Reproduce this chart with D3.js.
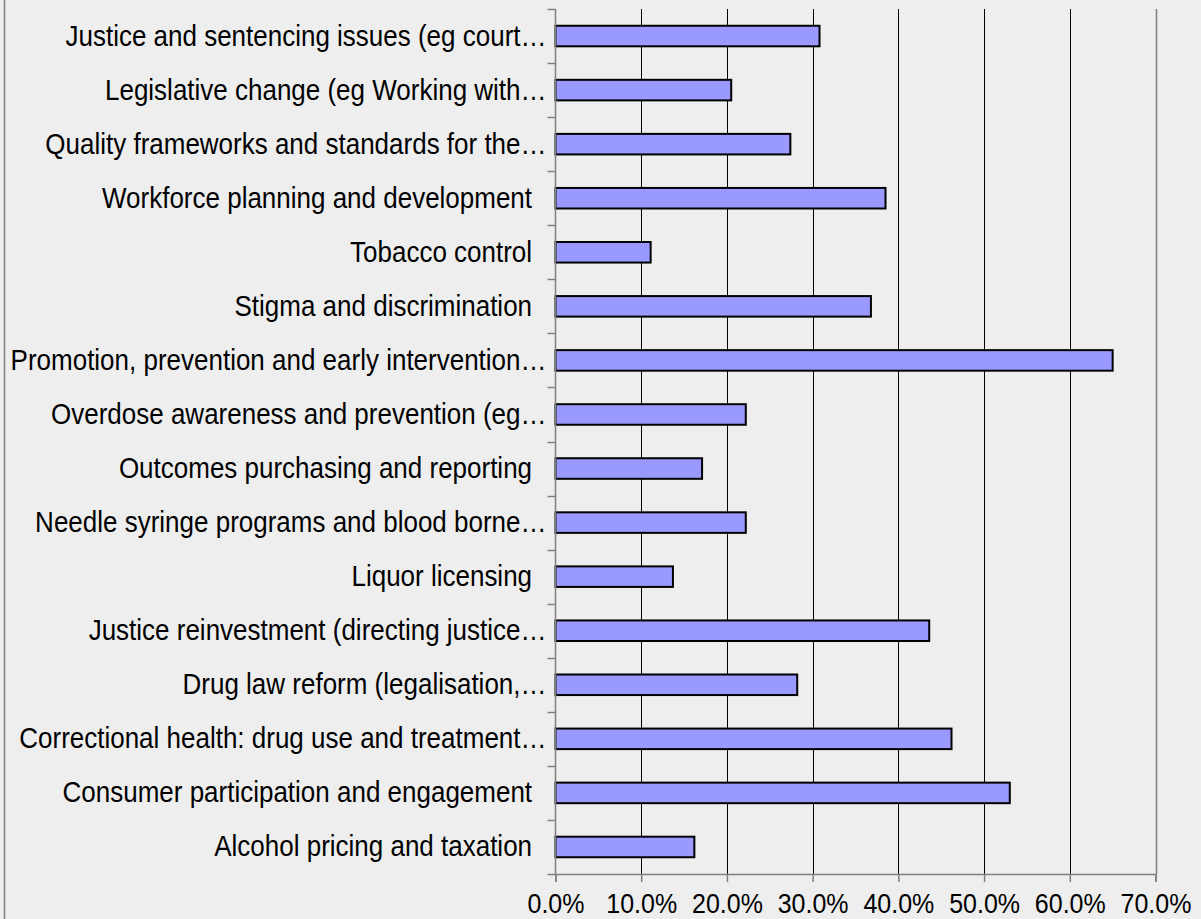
<!DOCTYPE html>
<html>
<head>
<meta charset="utf-8">
<script src="https://cdn.jsdelivr.net/npm/d3@7"></script>
<style>
  html, body { margin: 0; padding: 0; background: #eeeeee; }
  svg { display: block; }
  text { font-family: "Liberation Sans", Arial, sans-serif; fill: #000; }
</style>
</head>
<body>
<svg id="chart" width="1201" height="919"></svg>
<script>
// Share of respondents selecting each policy area (%)
const categories = [
  "Justice and sentencing issues (eg court\u2026",
  "Legislative change (eg Working with\u2026",
  "Quality frameworks and standards for the\u2026",
  "Workforce planning and development  ",
  "Tobacco control  ",
  "Stigma and discrimination  ",
  "Promotion, prevention and early intervention\u2026",
  "Overdose awareness and prevention (eg\u2026",
  "Outcomes purchasing and reporting  ",
  "Needle syringe programs and blood borne\u2026",
  "Liquor licensing  ",
  "Justice reinvestment (directing justice\u2026",
  "Drug law reform (legalisation,\u2026",
  "Correctional health: drug use and treatment\u2026",
  "Consumer participation and engagement  ",
  "Alcohol pricing and taxation  "
];
const values = [30.8, 20.5, 27.4, 38.5, 11.1, 36.8, 65.0, 22.2, 17.1, 22.2, 13.7, 43.6, 28.2, 46.2, 53.0, 16.2];
const xTicks = [0, 10, 20, 30, 40, 50, 60, 70];

const svg = d3.select("#chart");
const plot = { left: 555.5, right: 1155.5, top: 9, bottom: 874 };
const textStretch = 1.11; // labels are drawn slightly tall

const x = d3.scaleLinear().domain([0, 70]).range([plot.left, plot.right]);
const y = d3.scaleBand().domain(categories).range([plot.top, plot.bottom])
  .paddingInner(0.62).paddingOuter(0.31);

// outer frame line on the left edge
svg.append("line")
  .attr("x1", 4.5).attr("x2", 4.5).attr("y1", 0).attr("y2", 919)
  .attr("stroke", "#808080").attr("stroke-width", 1.5);

// vertical gridlines
svg.append("g").selectAll("line")
  .data(xTicks.filter(d => d > 0))
  .join("line")
  .attr("x1", d => Math.round(x(d)) + 0.5)
  .attr("x2", d => Math.round(x(d)) + 0.5)
  .attr("y1", plot.top).attr("y2", plot.bottom)
  .attr("stroke", d => d === 70 ? "#808080" : "#000")
  .attr("stroke-width", d => d === 70 ? 1.5 : 1);

// bars
svg.append("g").selectAll("rect")
  .data(categories.map((c, i) => ({ c, v: values[i] })))
  .join("rect")
  .attr("x", x(0))
  .attr("y", d => y(d.c))
  .attr("width", d => x(d.v) - x(0))
  .attr("height", y.bandwidth())
  .attr("fill", "#9999ff")
  .attr("stroke", "#000")
  .attr("stroke-width", 2);

// category axis: line and boundary ticks
const yAxis = svg.append("g");
yAxis.append("line")
  .attr("x1", plot.left).attr("x2", plot.left)
  .attr("y1", plot.top).attr("y2", plot.bottom)
  .attr("stroke", "#808080").attr("stroke-width", 1.5);
const bounds = categories.map(c => y(c) - y.step() * y.paddingOuter());
bounds.push(plot.bottom);
yAxis.selectAll("line.tick")
  .data(bounds)
  .join("line")
  .attr("class", "tick")
  .attr("x1", plot.left - 8).attr("x2", plot.left)
  .attr("y1", d => Math.round(d) + 0.5).attr("y2", d => Math.round(d) + 0.5)
  .attr("stroke", "#808080").attr("stroke-width", 1.5);
yAxis.selectAll("text")
  .data(categories)
  .join("text")
  .attr("transform", d =>
    `translate(${plot.left - 9},${y(d) + y.bandwidth() / 2 + 9.5}) scale(1,${textStretch})`)
  .attr("text-anchor", "end")
  .attr("font-size", 26)
  .style("white-space", "pre")
  .text(d => d);

// value axis
const xAxis = svg.append("g")
  .attr("transform", `translate(0,${plot.bottom})`)
  .call(d3.axisBottom(x).tickValues(xTicks).tickSize(8)
    .tickFormat(d => d.toFixed(1) + "%"));
xAxis.select(".domain").attr("stroke", "#808080").attr("stroke-width", 1.5);
xAxis.selectAll(".tick line").attr("stroke", "#808080").attr("stroke-width", 1.5);
xAxis.selectAll(".tick text")
  .attr("y", null).attr("dy", null)
  .attr("transform", `translate(0,39) scale(1,${textStretch})`)
  .attr("font-size", 25)
  .attr("font-family", "'Liberation Sans', Arial, sans-serif")
  .attr("fill", "#000");
</script>
</body>
</html>
